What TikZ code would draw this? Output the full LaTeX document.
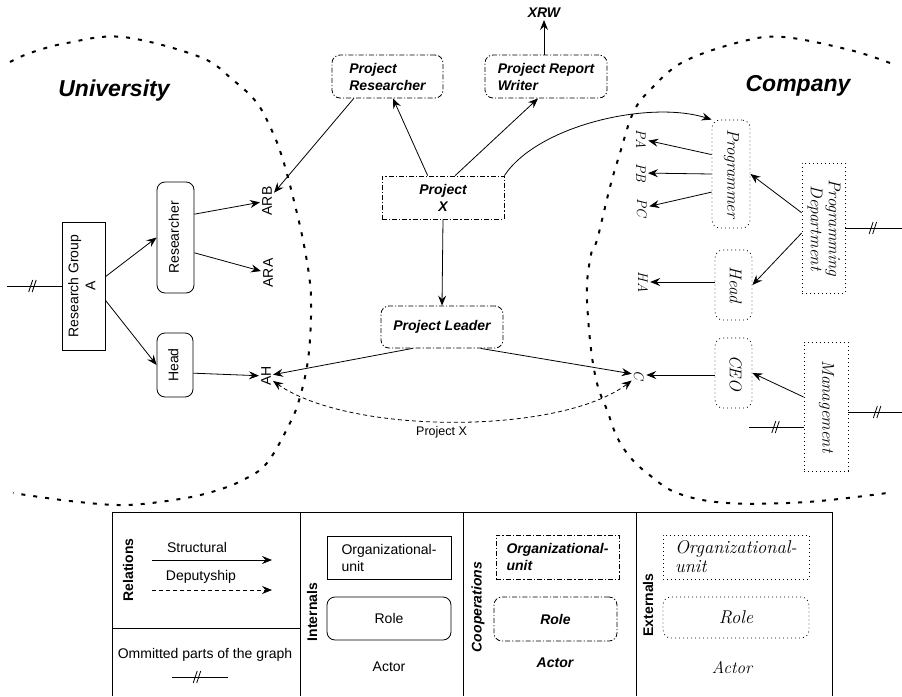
\documentclass[tikz,border=0pt]{standalone}
\usepackage{fontspec}
\setsansfont{Liberation Sans}
\usepackage{graphicx}
\usetikzlibrary{arrows.meta,calc}

% type sizes and faces
\newcommand{\sizeN}{\fontsize{14}{17}\selectfont}
\newcommand{\sizeS}{\fontsize{12.5}{15}\selectfont}
\newcommand{\sizeH}{\fontsize{17}{18}\selectfont}
\newcommand{\sizeL}{\fontsize{18.5}{19}\selectfont}
\newcommand{\sizeA}{\fontsize{14}{17}\selectfont}
\newcommand{\sizeT}{\fontsize{23}{26}\selectfont}
\newcommand{\handwr}{\rmfamily\itshape}
\newcommand{\coopwr}{\sffamily\bfseries\itshape}
\newcommand{\vtext}[2]{\rotatebox{#1}{\begin{tabular}{@{}c@{}}#2\end{tabular}}}

\tikzset{
  tip/.tip={Stealth[length=10pt,width=8pt,inset=3.5pt]},
  linkplain/.style={line width=0.8pt},
  linkarrow/.style={line width=0.8pt, -tip},
  deparrow/.style={linkarrow, dash pattern=on 4pt off 3pt},
  regionline/.style={line width=2pt, dash pattern=on 4pt off 8pt},
  dashdotline/.style={dash pattern=on 5pt off 2pt on 1.2pt off 2pt},
  dotline/.style={dash pattern=on 0.9pt off 3.1pt},
  framebox/.style={draw, line width=0.8pt, inner sep=0pt},
  intunit/.style={framebox},
  introle/.style={framebox, rounded corners=8pt},
  coopunit/.style={framebox, dashdotline, font=\coopwr\sizeN},
  cooprole/.style={coopunit, rounded corners=8pt},
  extunit/.style={framebox, dotline, font=\handwr\sizeH},
  extrole/.style={extunit, rounded corners=8pt},
  actor/.style={inner sep=2pt},
  extactor/.style={actor, font=\handwr\sizeA},
  omitmark/.pic={\draw[line width=0.8pt] (-4pt,-6pt) -- (0pt,6pt) (-0.5pt,-6pt) -- (3.5pt,6pt);},
}

\begin{document}
\begin{tikzpicture}[x=1pt, y=-1pt, font=\sffamily\sizeN]
\path[use as bounding box, fill=white] (0,0) rectangle (902,696);

% ---------- region borders ----------
\draw[regionline] plot[smooth, tension=0.6] coordinates {
  (10,62) (30,53) (67,43) (123,37) (200,57) (233,80) (257,103) (273,133)
  (283,160) (293,197) (303,240) (310,283) (311,317) (308,360) (300,397)
  (290,423) (267,463) (243,480) (215,491) (180,499) (125,505) (70,501) (13,493)};
\draw[regionline] plot[smooth, tension=0.6] coordinates {
  (890,63) (850,50) (783,37) (740,42) (683,62) (650,90) (633,113) (620,153)
  (610,187) (597,240) (592,250) (587,283) (588,317) (592,357) (598,387)
  (607,410) (617,437) (630,457) (647,473) (677,493) (727,503) (807,502) (887,493)};

\node[font=\coopwr\sizeT] at (114,91) {University};
\node[font=\coopwr\sizeT] at (798,86) {Company};

% ---------- university side ----------
\node[intunit, minimum width=43pt, minimum height=128pt] (rg) at (83.5,286)
  {\vtext{90}{Research Group\\A}};
\node[introle, minimum width=37pt, minimum height=111pt] (res) at (175.5,237.5)
  {\vtext{90}{Researcher}};
\node[introle, minimum width=36pt, minimum height=64pt] (headl) at (175,365)
  {\vtext{90}{Head}};
\node[actor] (arb) at (267,201) {\rotatebox{90}{ARB}};
\node[actor] (ara) at (268,273) {\rotatebox{90}{ARA}};
\node[actor] (ah)  at (266,376) {\rotatebox{90}{AH}};

\coordinate (rgL) at (7,286);
\draw[linkplain] (rgL) -- (rg.west);
\pic at ($(rgL)!0.47!(rg.west)$) {omitmark};
\draw[linkarrow] (rg.23) -- (res.west);
\draw[linkarrow] (rg.-33) -- (headl.west);
\draw[linkarrow] (res.51) -- (arb);
\draw[linkarrow] (res.-39) -- (ara);
\draw[linkarrow] (headl.-24) -- (ah);

% ---------- cooperation ----------
\node[cooprole, minimum width=111pt, minimum height=43pt, align=left] (pr) at (387.5,76.5)
  {Project\\Researcher};
\node[cooprole, minimum width=122pt, minimum height=43pt, align=left] (prw) at (546,76.5)
  {Project Report\\Writer};
\node[coopunit, minimum width=122pt, minimum height=43pt, align=center] (px) at (443,197.5)
  {Project\\X};
\node[cooprole, minimum width=122pt, minimum height=42pt] (pl) at (442,327)
  {Project Leader};
\node[actor, font=\coopwr\sizeN] (xrw) at (544,13) {XRW};

\draw[linkarrow] (xrw |- prw.north) -- (xrw.south);
\draw[linkarrow] (px.125) -- (pr.-76);
\draw[linkarrow] (px.61) -- (prw.-110);
\draw[linkarrow] (pr.213) -- (arb);
\draw[linkarrow] (px.south) -- (pl.north);
\draw[linkarrow] (pl.216) -- (ah);

% ---------- company side ----------
\node[extrole, minimum width=38pt, minimum height=108pt] (prog) at (731,174)
  {\vtext{-90}{Programmer}};
\node[extunit, minimum width=43pt, minimum height=130pt] (pd) at (823.5,228)
  {\vtext{-90}{Programming\\Department}};
\node[extrole, minimum width=37pt, minimum height=70pt] (headr) at (733.5,285)
  {\vtext{-90}{Head}};
\node[extrole, minimum width=37pt, minimum height=70pt] (ceo) at (733.5,373)
  {\vtext{-90}{CEO}};
\node[extunit, minimum width=44pt, minimum height=129pt] (mg) at (826,406.5)
  {\vtext{-90}{Management}};
\node[extactor] (pa) at (641,139) {\rotatebox{-90}{PA}};
\node[extactor] (pb) at (641,173) {\rotatebox{-90}{PB}};
\node[extactor] (pc) at (642,208) {\rotatebox{-90}{PC}};
\node[extactor] (ha) at (643,282) {\rotatebox{-90}{HA}};
\node[extactor] (c)  at (639,375) {\rotatebox{-90}{C}};

\draw[linkarrow] (px.north east) .. controls (538,125) and (650,100) .. (prog.north west);
\draw[linkarrow] (pl.-29) -- (c);
\draw[linkarrow] (prog.135) -- (pa);
\draw[linkarrow] (prog.west) -- (pb);
\draw[linkarrow] (prog.223) -- (pc);
\draw[linkarrow] (pd.145) -- (prog.east);
\draw[linkarrow] (pd.193) -- (headr.east);
\draw[linkarrow] (headr.west |- ha) -- (ha);
\draw[linkarrow] (ceo.west |- c) -- (c);
\draw[linkarrow] (mg.157) -- (ceo.east);

\coordinate (pdR) at (902,228);
\draw[linkplain] (pd.east) -- (pdR);
\pic at ($(pd.east)!0.49!(pdR)$) {omitmark};
\coordinate (mgL) at (749,427);
\draw[linkplain] (mgL) -- (mgL -| mg.west);
\pic at ($(mgL)!0.49!(mgL -| mg.west)$) {omitmark};
\coordinate (mgR) at (902,412);
\draw[linkplain] (mgR -| mg.east) -- (mgR);
\pic at ($(mgR -| mg.east)!0.54!(mgR)$) {omitmark};

% deputyship between the two heads
\draw[deparrow, tip-tip]
  (ah) .. controls (350,435) and (560,435) .. (c)
  node[pos=0.47, below=1pt, font=\sffamily\sizeS] {Project X};

% ---------- legend ----------
\draw[linkplain] (112,696) -- (112,512) -- (832,512) -- (832,696);
\draw[linkplain] (300,512) -- (300,696);
\draw[linkplain] (463,512) -- (463,696);
\draw[linkplain] (636,512) -- (636,696);
\draw[linkplain] (112,628) -- (300,628);

\node at (128,570) {\rotatebox{90}{\bfseries Relations}};
\node at (197,547) {Structural};
\node at (201,577) {Deputyship};
\coordinate (s1) at (152,560);
\coordinate (s2) at (272,560);
\coordinate (d1) at (152,590);
\coordinate (d2) at (272,590);
\draw[linkarrow] (s1) -- (s2);
\draw[deparrow] (d1) -- (d2);
\node at (205,655) {Ommitted parts of the graph};
\coordinate (o1) at (172,677);
\coordinate (o2) at (228,677);
\draw[linkplain] (o1) -- (o2);
\pic at ($(o1)!0.45!(o2)$) {omitmark};

\node at (312,612) {\rotatebox{90}{\bfseries Internals}};
\node[intunit, minimum width=124pt, minimum height=43pt, align=left] (liu) at (389,557.5)
  {Organizational-\\unit};
\node[introle, minimum width=124pt, minimum height=43pt] (lir) at (389,618.5) {Role};
\node (lia) at (389,667) {Actor};

\node at (478,607) {\rotatebox{90}{\coopwr Cooperations}};
\node[coopunit, minimum width=123pt, minimum height=44pt, align=left] (lcu) at (557.5,557)
  {Organizational-\\unit};
\node[cooprole, minimum width=123pt, minimum height=44pt] (lcr) at (555.5,619) {Role};
\node[font=\coopwr\sizeN] (lca) at (555,663) {Actor};

\node at (648,605) {\rotatebox{90}{\bfseries Externals}};
\node[extunit, minimum width=146pt, minimum height=44pt, align=left, font=\handwr\sizeL] (leu) at (736,557)
  {Organizational-\\unit};
\node[extrole, minimum width=146pt, minimum height=41pt, font=\handwr\sizeL] (ler) at (736,617.5) {Role};
\node[font=\handwr\sizeH] (lea) at (732,668) {Actor};
\end{tikzpicture}
\end{document}
